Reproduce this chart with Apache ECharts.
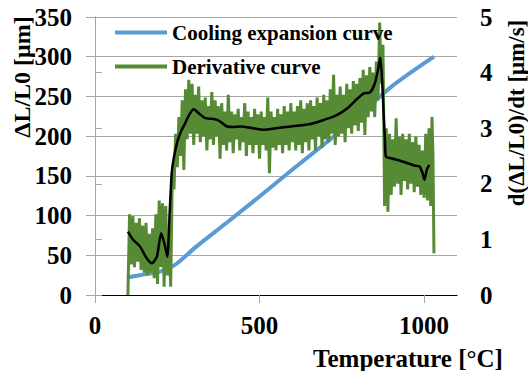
<!DOCTYPE html>
<html><head><meta charset="utf-8">
<script src="https://cdn.jsdelivr.net/npm/echarts@6/dist/echarts.min.js"></script>
<style>html,body{margin:0;padding:0;background:#fff}#c{width:528px;height:371px}</style>
</head><body><div id="c"></div><script>
// Tick labels
const xTicks = [0, 500, 1000];
const leftTicksMax = 350;
const rightTicksMax = 5;

// Cooling expansion curve (left axis, µm)
const coolTemp  = [97, 150, 193, 220, 250, 305, 400, 500, 600, 700, 800, 900, 1030];
const coolValue = [22, 26, 29, 33, 40, 60, 91, 124, 158, 191, 225, 262, 300];

// Derivative curve (right axis, µm/s) – raw, noisy
const derivTemp = [
  100,105,110,115,120,125,130,135,140,145,
  150,155,160,165,170,175,180,185,190,195,
  200,205,210,215,220,225,230,235,240,245,
  250,255,260,265,270,275,280,285,290,295,
  300,305,310,315,320,325,330,335,340,345,
  350,355,360,365,370,375,380,385,390,395,
  400,405,410,415,420,425,430,435,440,445,
  450,455,460,465,470,475,480,485,490,495,
  500,505,510,515,520,525,530,535,540,545,
  550,555,560,565,570,575,580,585,590,595,
  600,605,610,615,620,625,630,635,640,645,
  650,655,660,665,670,675,680,685,690,695,
  700,705,710,715,720,725,730,735,740,745,
  750,755,760,765,770,775,780,785,790,795,
  800,805,810,815,820,825,830,835,840,845,
  850,855,860,865,870,875,880,885,890,895,
  900,905,910,915,920,925,930,935,940,945,
  950,955,960,965,970,975,980,985,990,995,
  1000,1005,1010,1015,1020,1024,1027,1030
];
const derivValue = [
  0.00,1.45,0.55,1.42,0.50,1.30,0.60,1.38,0.45,1.25,
  0.40,1.30,0.35,1.10,0.40,1.20,0.30,1.45,0.20,1.70,
  0.50,1.65,0.15,1.60,0.35,1.00,0.15,2.20,1.90,2.90,
  2.30,3.20,2.50,3.50,2.25,3.70,2.80,3.87,2.90,3.80,
  2.70,3.60,2.90,3.75,2.75,3.50,2.85,3.55,2.60,3.40,
  2.80,3.65,2.70,3.50,2.85,3.40,2.45,3.45,2.70,3.30,
  2.60,3.60,2.75,3.30,2.55,3.25,2.80,3.35,2.60,3.20,
  2.75,3.45,2.50,3.30,2.70,3.20,2.55,3.35,2.70,3.25,
  2.45,3.30,2.70,3.20,2.60,3.55,2.19,3.30,2.65,3.20,
  2.60,3.35,2.70,3.25,2.55,3.40,2.70,3.30,2.60,3.45,
  2.75,3.30,2.60,3.40,2.70,3.50,2.55,3.35,2.75,3.45,
  2.60,3.50,2.80,3.40,2.60,3.55,2.85,3.45,2.65,3.60,
  2.80,3.50,2.75,3.70,2.90,3.96,2.70,3.60,2.85,3.75,
  2.90,3.60,2.75,3.80,3.00,3.70,2.90,3.85,3.05,3.80,
  2.95,3.90,3.10,4.05,2.88,3.95,3.20,4.10,3.30,4.00,
  3.20,4.20,3.50,4.90,3.80,4.50,1.60,3.00,1.50,2.90,
  1.80,2.80,1.95,3.18,2.00,2.85,1.80,2.90,2.05,2.80,
  1.90,2.90,2.00,2.75,1.85,2.85,1.95,2.70,1.80,2.60,
  1.75,2.90,1.70,3.00,1.60,3.20,2.50,0.75
];

// Smoothed derivative (right axis, black)
const smoothTemp  = [100,115,137,155,173,188,201,212,220,227,234,249,262,274,287,300,315,335,355,371,385,401,420,442,480,513,550,595,650,696,730,767,795,818,835,850,860,867,872,877,881,884,899,925,950,970,986,995,1001,1008,1016];
const smoothValue = [1.14,1.00,0.87,0.68,0.57,0.69,1.11,0.90,0.69,1.50,2.25,2.73,2.95,3.09,3.25,3.34,3.27,3.18,3.17,3.15,3.10,3.03,3.02,3.03,3.00,2.97,3.00,3.03,3.07,3.15,3.22,3.36,3.52,3.63,3.64,3.80,4.05,4.27,3.90,3.27,2.80,2.49,2.46,2.42,2.37,2.33,2.31,2.20,2.07,2.25,2.34];

const seriesNames = ['Cooling expansion curve', 'Derivative curve'];
const leftTitle = 'ΔL/L0 [μm]';
const rightTitle = 'd(ΔL/L0)/dt [μm/s]';
const xTitle = 'Temperature [°C]';

const FONT = '"Liberation Serif","Times New Roman",serif';
const GRAY = '#a6a6a6';
const zip = (a, b) => a.map((v, i) => [v, b[i]]);

const chart = echarts.init(document.getElementById('c'), null, {renderer: 'svg'});
chart.setOption({
  animation: false,
  backgroundColor: '#fff',
  grid: {left: 95, right: 71, top: 17, bottom: 76, containLabel: false},
  legend: {
    data: seriesNames.map(n => ({name: n, icon: 'rect'})),
    orient: 'vertical',
    left: 110, top: 17,
    itemWidth: 52, itemHeight: 4, itemGap: 13,
    textStyle: {fontFamily: FONT, fontWeight: 'bold', fontSize: 21, color: '#000'}
  },
  xAxis: [{
    type: 'value', min: 0, max: 1100, interval: 500, position: 'bottom',
    axisLine: {show: true, lineStyle: {color: GRAY, width: 1}},
    axisTick: {show: true, length: 8, lineStyle: {color: GRAY}, customValues: xTicks},
    axisLabel: {customValues: xTicks, formatter: v => String(v), margin: 18, fontFamily: FONT, fontWeight: 'bold', fontSize: 25, color: '#000'},
    splitLine: {show: false}
  }, {
    type: 'value', min: 0, max: 1100, position: 'top',
    axisLine: {show: true, lineStyle: {color: '#000', width: 1}},
    axisTick: {show: false}, axisLabel: {show: false}, splitLine: {show: false}
  }],
  yAxis: [{
    type: 'value', min: 0, max: leftTicksMax, interval: 50, position: 'left',
    axisLine: {show: true, lineStyle: {color: GRAY}},
    axisTick: {show: true, length: 9, lineStyle: {color: GRAY}},
    axisLabel: {margin: 23, fontFamily: FONT, fontWeight: 'bold', fontSize: 25, color: '#000'},
    splitLine: {show: true, lineStyle: {color: GRAY, width: 1}}
  }, {
    type: 'value', min: 0, max: rightTicksMax, interval: 1, position: 'right',
    axisLine: {show: true, lineStyle: {color: GRAY}},
    axisTick: {show: true, length: 7, lineStyle: {color: GRAY}},
    axisLabel: {margin: 23, fontFamily: FONT, fontWeight: 'bold', fontSize: 25, color: '#000'},
    splitLine: {show: false}
  }],
  graphic: [
    {type: 'text', x: 22, y: 77, rotation: Math.PI / 2,
     style: {text: leftTitle, font: 'bold 24px ' + FONT, fill: '#000', align: 'center', verticalAlign: 'middle'}},
    {type: 'text', x: 516, y: 113, rotation: Math.PI / 2,
     style: {text: rightTitle, font: 'bold 23px ' + FONT, fill: '#000', align: 'center', verticalAlign: 'middle'}},
    {type: 'text', x: 408, y: 358,
     style: {text: xTitle, font: 'bold 25px ' + FONT, fill: '#000', align: 'center', verticalAlign: 'middle'}}
  ],
  series: [{
    name: seriesNames[0], type: 'line', xAxisIndex: 0, yAxisIndex: 0,
    data: zip(coolTemp, coolValue), showSymbol: false, symbol: 'none', smooth: 0.3,
    lineStyle: {color: '#5b9bd5', width: 4}, itemStyle: {color: '#5b9bd5'}, z: 2
  }, {
    name: seriesNames[1], type: 'line', xAxisIndex: 0, yAxisIndex: 1,
    data: zip(derivTemp, derivValue), showSymbol: false, symbol: 'none',
    lineStyle: {color: '#568a35', width: 3}, itemStyle: {color: '#568a35'}, z: 3
  }, {
    name: 'Smoothed', type: 'line', xAxisIndex: 0, yAxisIndex: 1,
    data: zip(smoothTemp, smoothValue), showSymbol: false, symbol: 'none', smooth: 0.2,
    lineStyle: {color: '#000', width: 2.5}, itemStyle: {color: '#000'}, z: 4
  }]
});
</script></body></html>
